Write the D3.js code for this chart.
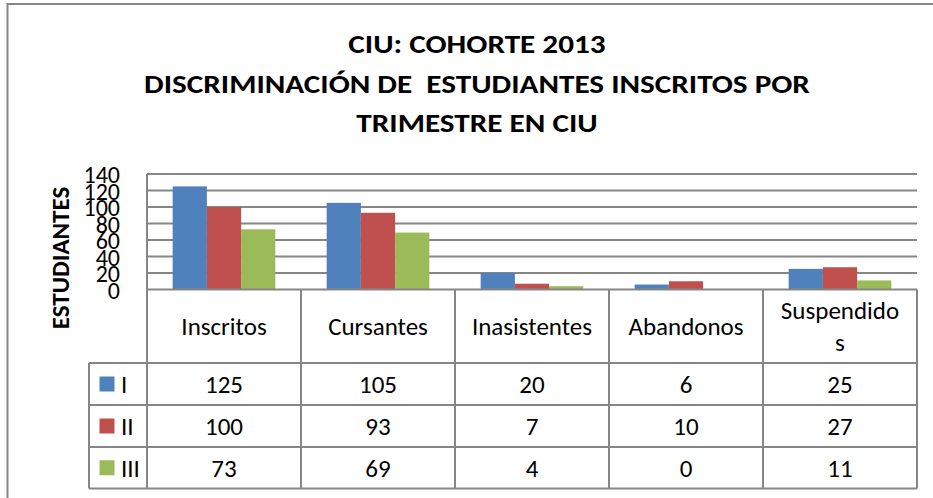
<!DOCTYPE html>
<html lang="es">
<head>
    <meta charset="UTF-8">
    <title>CIU: Cohorte 2013</title>
    <script src="https://d3js.org/d3.v7.min.js"></script>
    <style>
        body { margin: 0; background: #fff; }
        text { font-family: Carlito, Calibri, Lato, sans-serif; fill: #000; }
        .grid line, .tbl line { stroke: #868686; stroke-width: 2; }
    </style>
</head>
<body>
    <svg width="933" height="498"></svg>
    <script>
        // data
        var categories = ["Inscritos", "Cursantes", "Inasistentes", "Abandonos", "Suspendidos"];
        var categoryLines = [["Inscritos"], ["Cursantes"], ["Inasistentes"], ["Abandonos"], ["Suspendido", "s"]];
        var seriesNames = ["I", "II", "III"];
        var seriesI = [125, 105, 20, 6, 25];
        var seriesII = [100, 93, 7, 10, 27];
        var seriesIII = [73, 69, 4, 0, 11];
        var yTicks = [0, 20, 40, 60, 80, 100, 120, 140];
        var colors = ["#4f81bd", "#c0504d", "#9bbb59"];
        var titleLines = ["CIU: COHORTE 2013", "DISCRIMINACIÓN DE  ESTUDIANTES INSCRITOS POR", "TRIMESTRE EN CIU"];

        var series = [seriesI, seriesII, seriesIII];
        var svg = d3.select("svg");

        var plot = {left: 147, right: 917, top: 174, bottom: 289.5};
        var rowEdges = [289.5, 363, 405, 447, 488.5];
        var legendLeft = 89;
        var fontSize = 25;

        // chart border (only left and top visible)
        svg.append("path")
            .attr("d", "M7.5,498V4H933")
            .attr("fill", "none")
            .attr("stroke", "#868686")
            .attr("stroke-width", 2);

        // title, widened a bit since the fallback font is wider per height than Calibri
        svg.append("g").selectAll("text")
            .data(titleLines)
            .enter().append("text")
            .attr("x", 477)
            .attr("y", function (d, i) { return 53 + i * 39.5; })
            .attr("text-anchor", "middle")
            .style("font-weight", "bold")
            .style("font-size", "26px")
            .style("white-space", "pre")
            .text(function (d) { return d; })
            .each(function () {
                var w = this.getComputedTextLength();
                d3.select(this).attr("textLength", w * 1.2).attr("lengthAdjust", "spacingAndGlyphs");
            });

        var x = d3.scaleBand().domain(categories).range([plot.left, plot.right])
            .paddingInner(1 / 3).paddingOuter(1 / 6);
        var xs = d3.scaleBand().domain(seriesNames).range([0, x.bandwidth()]);
        var y = d3.scaleLinear().domain([0, 140]).range([plot.bottom, plot.top]);

        // gridlines
        svg.append("g").attr("class", "grid")
            .selectAll("line")
            .data(yTicks.slice(1))
            .enter().append("line")
            .attr("x1", plot.left).attr("x2", plot.right)
            .attr("y1", function (d) { return y(d); })
            .attr("y2", function (d) { return y(d); });

        // bars
        svg.append("g").selectAll("g")
            .data(series)
            .enter().append("g")
            .attr("fill", function (d, i) { return colors[i]; })
            .attr("transform", function (d, i) { return "translate(" + xs(seriesNames[i]) + ",0)"; })
            .selectAll("rect")
            .data(function (d) { return d; })
            .enter().append("rect")
            .attr("x", function (d, i) { return x(categories[i]); })
            .attr("y", function (d) { return y(d); })
            .attr("width", xs.bandwidth())
            .attr("height", function (d) { return plot.bottom - y(d); });

        // y axis
        var yAxis = svg.append("g")
            .attr("transform", "translate(" + plot.left + ",0)")
            .call(d3.axisLeft(y).tickValues(yTicks).tickSize(0).tickPadding(27));
        yAxis.select(".domain").attr("stroke", "#868686").attr("stroke-width", 2)
            .attr("d", "M0," + plot.top + "V" + plot.bottom);
        yAxis.selectAll("text")
            .style("font-family", "Carlito, Calibri, Lato, sans-serif")
            .style("font-size", "24px")
            .attr("dy", "0.36em");

        svg.append("text")
            .attr("transform", "translate(69,258) rotate(-90)")
            .attr("text-anchor", "middle")
            .style("font-weight", "bold")
            .style("font-size", "25px")
            .text("ESTUDIANTES");

        // data table
        var tbl = svg.append("g").attr("class", "tbl");
        var colEdges = categories.map(function (c, i) { return plot.left + i * x.step(); }).concat([plot.right]);

        rowEdges.forEach(function (ry, i) {
            tbl.append("line")
                .attr("x1", i === 0 ? plot.left : legendLeft)
                .attr("x2", plot.right)
                .attr("y1", ry).attr("y2", ry);
        });
        colEdges.forEach(function (cx) {
            tbl.append("line")
                .attr("x1", cx).attr("x2", cx)
                .attr("y1", rowEdges[0]).attr("y2", rowEdges[4]);
        });
        tbl.append("line")
            .attr("x1", legendLeft).attr("x2", legendLeft)
            .attr("y1", rowEdges[1]).attr("y2", rowEdges[4]);

        // category header text
        tbl.selectAll("text.cat")
            .data(categories)
            .enter().append("text")
            .attr("class", "cat")
            .attr("text-anchor", "middle")
            .style("font-size", fontSize + "px")
            .each(function (d, i) {
                var lines = categoryLines[i];
                var mid = (rowEdges[0] + rowEdges[1]) / 2;
                d3.select(this).selectAll("tspan")
                    .data(lines)
                    .enter().append("tspan")
                    .attr("x", x(d) + x.bandwidth() / 2)
                    .attr("y", function (l, j) { return mid + (j - (lines.length - 1) / 2) * 32; })
                    .attr("dy", "0.36em")
                    .text(function (l) { return l; });
            });

        // series rows with legend keys
        series.forEach(function (s, si) {
            var mid = (rowEdges[si + 1] + rowEdges[si + 2]) / 2;
            tbl.append("rect")
                .attr("x", 99.5).attr("y", mid - 7.5)
                .attr("width", 15).attr("height", 15)
                .attr("fill", colors[si]);
            tbl.append("text")
                .attr("x", 121).attr("y", mid).attr("dy", "0.36em")
                .style("font-size", fontSize + "px")
                .text(seriesNames[si]);
            tbl.selectAll("text.v" + si)
                .data(s)
                .enter().append("text")
                .attr("class", "v" + si)
                .attr("x", function (d, i) { return x(categories[i]) + x.bandwidth() / 2; })
                .attr("y", mid).attr("dy", "0.36em")
                .attr("text-anchor", "middle")
                .style("font-size", fontSize + "px")
                .text(function (d) { return d; });
        });
    </script>
</body>
</html>
